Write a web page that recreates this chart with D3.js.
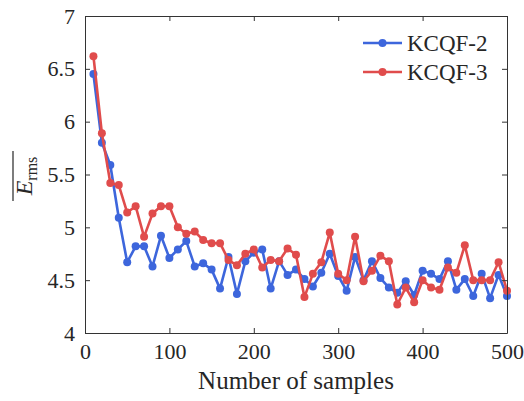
<!DOCTYPE html>
<html>
<head>
<meta charset="utf-8">
<script src="https://cdn.jsdelivr.net/npm/d3@7"></script>
<style>
  body { margin: 0; background: #fff; }
</style>
</head>
<body>
<svg id="chart" width="524" height="401"></svg>
<script>
// samples 10..500
const samples = [10,20,30,40,50,60,70,80,90,100,110,120,130,140,150,160,170,180,190,200,
  210,220,230,240,250,260,270,280,290,300,310,320,330,340,350,360,370,380,390,400,
  410,420,430,440,450,460,470,480,490,500];

const kcqf2 = [6.45,5.80,5.59,5.09,4.67,4.82,4.82,4.63,4.92,4.71,4.79,4.87,4.63,4.66,4.60,4.42,4.72,4.37,4.68,4.76,
  4.79,4.42,4.68,4.55,4.60,4.51,4.44,4.57,4.75,4.54,4.40,4.72,4.50,4.68,4.52,4.43,4.38,4.49,4.36,4.59,
  4.56,4.51,4.68,4.41,4.51,4.35,4.56,4.33,4.55,4.35];

const kcqf3 = [6.62,5.89,5.42,5.40,5.14,5.20,4.91,5.13,5.20,5.20,5.00,4.94,4.96,4.88,4.85,4.85,4.69,4.64,4.75,4.79,
  4.62,4.69,4.68,4.80,4.74,4.34,4.56,4.67,4.95,4.56,4.50,4.91,4.49,4.59,4.73,4.68,4.27,4.43,4.29,4.50,
  4.43,4.41,4.62,4.57,4.83,4.50,4.50,4.50,4.67,4.40];

const xTicks = [0,100,200,300,400,500];
const yTicks = [4,4.5,5,5.5,6,6.5,7];

const series = [
  { name: "KCQF-2", values: kcqf2, colour: "#3d66dc" },
  { name: "KCQF-3", values: kcqf3, colour: "#e04c4c" },
];

const serif = "Liberation Serif";
const ink = "#262626";
const svg = d3.select("#chart");
const margin = { left: 85, right: 17, top: 16, bottom: 68 };
const width = 524 - margin.left - margin.right;
const height = 401 - margin.top - margin.bottom;

const x = d3.scaleLinear().domain([0, 500]).range([0, width]);
const y = d3.scaleLinear().domain([4, 7]).range([height, 0]);

const g = svg.append("g").attr("transform", `translate(${margin.left},${margin.top})`);

// lines + markers
const line = d3.line().x((d, i) => x(samples[i])).y(d => y(d));
series.forEach(s => {
  g.append("path")
    .datum(s.values)
    .attr("fill", "none")
    .attr("stroke", s.colour)
    .attr("stroke-width", 2.6)
    .attr("stroke-linejoin", "round")
    .attr("d", line);
  g.selectAll(null)
    .data(s.values)
    .enter().append("circle")
    .attr("cx", (d, i) => x(samples[i]))
    .attr("cy", d => y(d))
    .attr("r", 4)
    .attr("fill", s.colour);
});

// box axes with inward ticks
const tickLen = 5;
const axStyle = sel => {
  sel.select(".domain").attr("stroke", "#333").attr("stroke-width", 1);
  sel.selectAll(".tick line").attr("stroke", "#333");
  sel.selectAll("text").style("font-family", serif).style("font-size", "22px").attr("fill", ink);
};

g.append("g").attr("transform", `translate(0,${height})`)
  .call(d3.axisBottom(x).tickValues(xTicks).tickSizeInner(-tickLen).tickSizeOuter(0).tickPadding(10).tickFormat(d3.format("d")))
  .call(axStyle);
g.append("g")
  .call(d3.axisTop(x).tickValues(xTicks).tickSizeInner(-tickLen).tickSizeOuter(0).tickFormat(""))
  .call(axStyle);
g.append("g")
  .call(d3.axisLeft(y).tickValues(yTicks).tickSizeInner(-tickLen).tickSizeOuter(0).tickPadding(10).tickFormat(d => d))
  .call(axStyle);
g.append("g").attr("transform", `translate(${width},0)`)
  .call(d3.axisRight(y).tickValues(yTicks).tickSizeInner(-tickLen).tickSizeOuter(0).tickFormat(""))
  .call(axStyle);

// axis titles
svg.append("text")
  .attr("x", margin.left + width / 2)
  .attr("y", 389)
  .attr("text-anchor", "middle")
  .style("font-family", serif)
  .style("font-size", "25px")
  .attr("fill", ink)
  .text("Number of samples");

const yl = svg.append("text")
  .attr("transform", "translate(32,176) rotate(-90)")
  .attr("text-anchor", "middle")
  .style("font-family", serif)
  .attr("fill", ink)
  .style("font-size", "24px");
yl.append("tspan").attr("font-style", "italic").text("E");
yl.append("tspan").attr("dy", 5).style("font-size", "16px").text("rms");
svg.append("line")
  .attr("x1", 13).attr("x2", 13)
  .attr("y1", 151).attr("y2", 201)
  .attr("stroke", ink).attr("stroke-width", 1.2);

// legend
const legend = svg.append("g").attr("transform", "translate(363,43)");
series.forEach((s, i) => {
  const row = legend.append("g").attr("transform", `translate(0,${i * 29})`);
  row.append("line").attr("x1", 0).attr("x2", 39).attr("stroke", s.colour).attr("stroke-width", 2.6);
  row.append("circle").attr("cx", 19.5).attr("r", 4).attr("fill", s.colour);
  row.append("text").attr("x", 44).attr("dy", "0.35em")
    .style("font-family", serif).style("font-size", "23px").attr("fill", ink).text(s.name);
});
</script>
</body>
</html>
